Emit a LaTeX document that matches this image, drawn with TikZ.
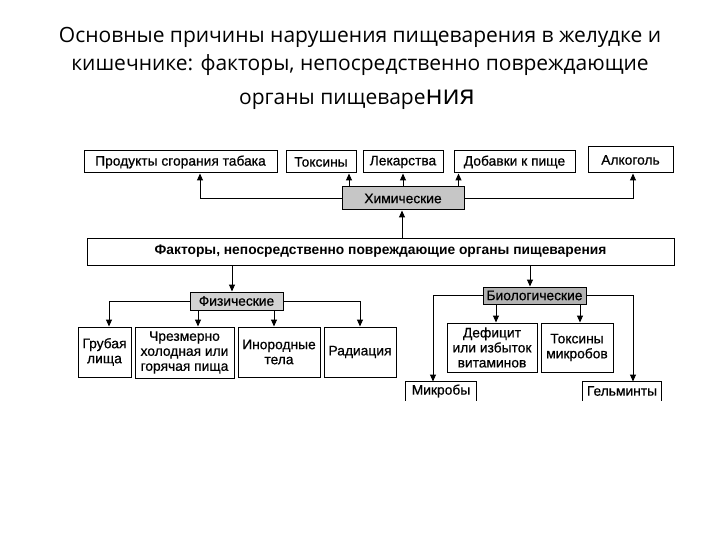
\documentclass[tikz,border=0pt]{standalone}
\usepackage{fontspec}
\setmainfont{Liberation Sans}
\newfontfamily\diagfont[FakeBold=0.6]{Liberation Sans}
\newfontfamily\titlefont{Open Sans}
\usetikzlibrary{arrows.meta}
\begin{document}
\begin{tikzpicture}[x=1pt,y=-1pt,
  box/.style={draw, line width=1pt, inner sep=0pt, align=center, font=\diagfont\fontsize{13.8}{15}\selectfont},
  cat/.style={box, fill=gray!45},
  arr/.style={line width=1pt, -{Triangle[length=7pt,width=6pt]}},
  ttl/.style={font=\titlefont\fontsize{21}{25}\selectfont, inner sep=0pt}]
\useasboundingbox (0,0) rectangle (720,540);
\fill[white] (0,0) rectangle (720,540);

% title
\node[ttl] (t1) at (360,37) {Основные причины нарушения пищеварения в желудке и};
\node[ttl] (t2) at (360,65) {кишечнике: факторы, непосредственно повреждающие};
\node[ttl] (t3) at (357,100) {органы пищеваре{\fontsize{27}{27}\selectfont ния}};

% top row
\node[box, minimum width=193, minimum height=22] (prod) at (180.5,162) {Продукты сгорания табака};
\node[box, minimum width=70, minimum height=22] (tox) at (321,162) {Токсины};
\node[box, minimum width=80, minimum height=22] (lek) at (403,162) {Лекарства};
\node[box, minimum width=121, minimum height=22] (dob) at (514.5,162) {Добавки к пище};
\node[box, minimum width=85, minimum height=26] (alk) at (630.5,160) {Алкоголь};

\node[cat, minimum width=122, minimum height=23] (chem) at (403,198.5) {Химические};

\node[box, minimum width=587, minimum height=27, font=\fontsize{13.8}{15}\selectfont\bfseries] (fact) at (380.5,251.5) {Факторы, непосредственно повреждающие органы пищеварения};

\node[cat, fill=gray!35, minimum width=93, minimum height=18] (phys) at (236.5,301) {Физические};
\node[cat, fill=gray!60, minimum width=103, minimum height=17] (bio) at (534.5,295.5) {Биологические};

% physical
\node[box, minimum width=53, minimum height=50] (grub) at (104.5,352) {Грубая\\лища};
\node[box, minimum width=99, minimum height=51] (chrez) at (184.5,352.5) {Чрезмерно\\холодная или\\горячая пища};
\node[box, minimum width=82, minimum height=50] (inor) at (279,352) {Инородные\\тела};
\node[box, minimum width=72, minimum height=50] (rad) at (360,352) {Радиация};

% biological
\node[box, minimum width=90, minimum height=49] (def) at (492,347.5) {Дефицит\\или избыток\\витаминов};
\node[box, minimum width=72, minimum height=49] (toxm) at (577,347.5) {Токсины\\микробов};
\node[box, draw=none, minimum width=70, minimum height=18] (mic) at (441,391) {Микробы};
\node[box, draw=none, minimum width=78, minimum height=18] (gel) at (622,391) {Гельминты};
\draw[line width=1pt] (mic.south west) -- (mic.north west) -- (mic.north east) -- (mic.south east);
\draw[line width=1pt] (gel.south west) -- (gel.north west) -- (gel.north east) -- (gel.south east);

% connectors: chemical
\draw[arr] (chem.west) -| ([xshift=19.5pt]prod.south);
\draw[arr] ([xshift=28pt]tox.south |- chem.north) -- ([xshift=28pt]tox.south);
\draw[arr] (lek.south |- chem.north) -- (lek.south);
\draw[arr] ([xshift=5pt]dob.south west |- chem.north) -- ([xshift=5pt]dob.south west);
\draw[arr] (chem.east) -| ([xshift=2.5pt]alk.south);
\draw[arr] ([xshift=-1pt]chem.south |- fact.north) -- ([xshift=-1pt]chem.south);

% connectors: factors down
\draw[arr] ([xshift=-4.5pt]phys.north |- fact.south) -- ([xshift=-4.5pt]phys.north);
\draw[arr] ([xshift=-4.5pt]bio.north |- fact.south) -- ([xshift=-4.5pt]bio.north);

% connectors: physical
\draw[arr] (phys.west) -| ([xshift=4.5pt]grub.north);
\draw[arr] (phys.east) -| (rad.north);
\draw[arr] ([xshift=13.5pt]chrez.north |- phys.south) -- ([xshift=13.5pt]chrez.north);
\draw[arr] ([xshift=-5pt]inor.north |- phys.south) -- ([xshift=-5pt]inor.north);

% connectors: biological
\draw[arr] (bio.west) -| ([xshift=-8pt]mic.north);
\draw[arr] (bio.east) -| ([xshift=11pt]gel.north);
\draw[arr] ([xshift=4pt]def.north |- bio.south) -- ([xshift=4pt]def.north);
\draw[arr] ([xshift=3pt]toxm.north |- bio.south) -- ([xshift=3pt]toxm.north);
\end{tikzpicture}
\end{document}
